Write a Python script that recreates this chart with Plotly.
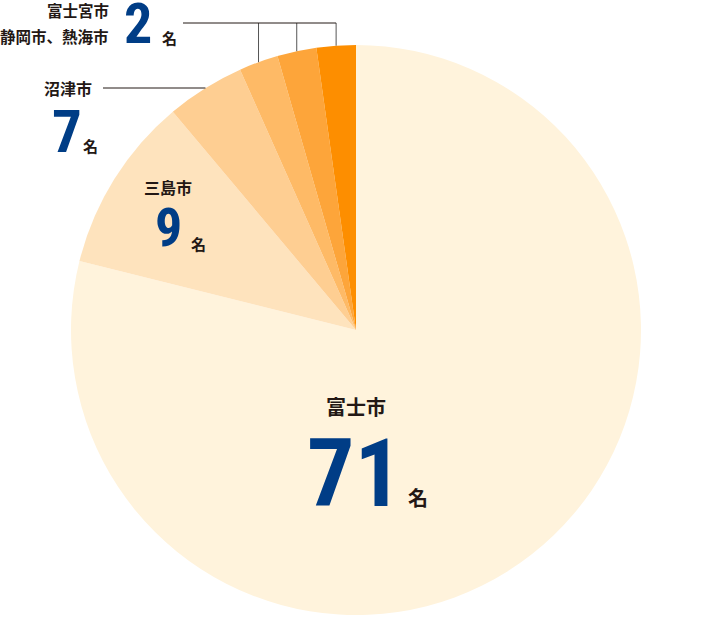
import math
import plotly.graph_objects as go

# slice shares as drawn (clockwise from 12 o'clock)
cities = ['富士市', '三島市', '沼津市', '静岡市', '熱海市', '富士宮市']
slice_values = [71, 9, 4, 2, 2, 2]
slice_colors = ['#FFF3DC', '#FEE3BD', '#FECE92', '#FEBA66', '#FDA53A', '#FD8E00']

# printed labels
label_names = ['富士市', '三島市', '沼津市', '富士宮市', '静岡市、熱海市']
label_counts = ['71', '9', '7', '2']

W, H = 715, 618
CX, CY, R = 356, 330, 285

INK = '#231815'
NAVY = '#003D86'
JP = 'Noto Sans CJK JP'
NUM = 'Roboto Condensed, Open Sans Condensed, Roboto'


def px(x, y):
    return x / W, 1 - y / H


def text(fig, s, x, y, size, family=JP, color=INK, xanchor='center'):
    ax, ay = px(x, y)
    fig.add_annotation(x=ax, y=ay, xref='paper', yref='paper', text=s, showarrow=False,
                       xanchor=xanchor, yanchor='middle',
                       font=dict(family=family, size=size, color=color, weight='bold'))


def line(fig, x0, y0, x1, y1, color=INK):
    a0, b0 = px(x0, y0)
    a1, b1 = px(x1, y1)
    fig.add_shape(type='line', xref='paper', yref='paper', x0=a0, y0=b0, x1=a1, y1=b1,
                  line=dict(color=color, width=1))


def main():
    fig = go.Figure(go.Pie(
        labels=cities, values=slice_values, sort=False, direction='clockwise', rotation=0,
        marker=dict(colors=slice_colors, line=dict(width=0)),
        textinfo='none', hoverinfo='label+value',
        domain=dict(x=[(CX - R) / W, (CX + R) / W], y=[1 - (CY + R) / H, 1 - (CY - R) / H]),
    ))

    # 富士市
    text(fig, label_names[0], 356, 406, 20)
    text(fig, label_counts[0], 354, 474, 94, NUM, NAVY)
    text(fig, '名', 418, 497, 20)

    # 三島市
    text(fig, label_names[1], 168, 187, 16)
    text(fig, label_counts[1], 168, 227, 54, NUM, NAVY)
    text(fig, '名', 198, 244, 15)

    # 沼津市
    text(fig, label_names[2], 68, 88, 16)
    text(fig, label_counts[2], 67, 131, 59, NUM, NAVY)
    text(fig, '名', 91, 146, 15)
    line(fig, 103, 88, CX - math.sqrt(R ** 2 - (CY - 88) ** 2), 88)

    # small three
    text(fig, label_names[3], 111, 10, 15.5, xanchor='right')
    text(fig, label_names[4], 111, 36, 15.5, xanchor='right')
    text(fig, label_counts[3], 138, 24, 56, NUM, NAVY)
    text(fig, '名', 169, 37, 15)

    total = sum(slice_values)
    cum = sum(slice_values[:3])
    xs = []
    for v in slice_values[3:]:
        theta = math.radians((cum + v / 2) / total * 360)
        x = CX + R * math.sin(theta)
        y = CY - R * math.cos(theta)
        line(fig, x, 23, x, y, '#555555')
        xs.append(x)
        cum += v
    line(fig, 183, 23, max(xs), 23)

    fig.update_layout(width=W, height=H, margin=dict(l=0, r=0, t=0, b=0),
                      showlegend=False, paper_bgcolor='white', plot_bgcolor='white')
    fig.write_html('out.html', config={'displayModeBar': False},
                   post_script="document.body.style.margin='0';")


main()
